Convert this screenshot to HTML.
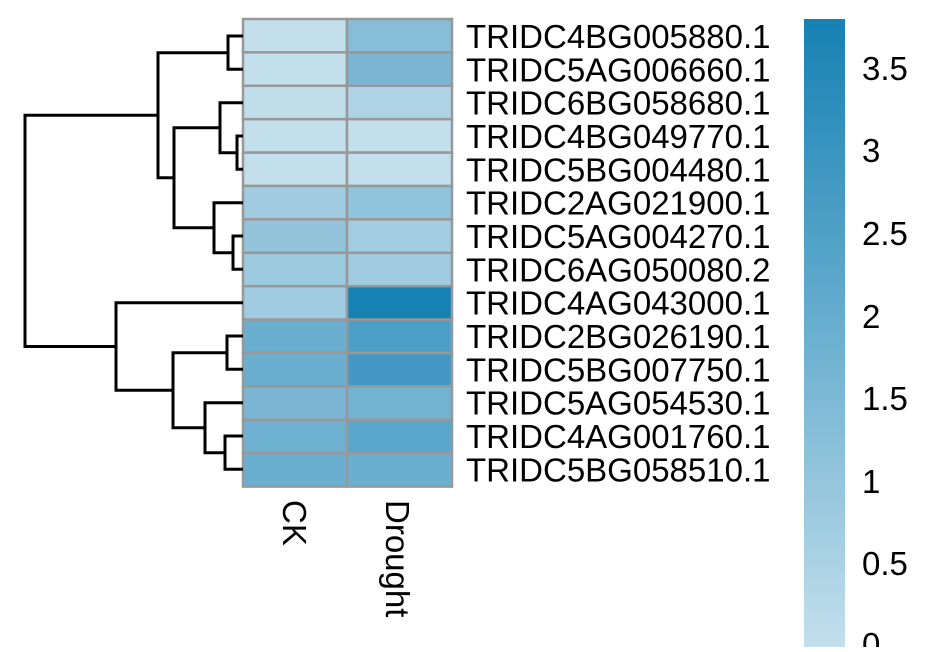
<!DOCTYPE html>
<html><head><meta charset="utf-8"><style>
html,body{margin:0;padding:0;background:#fff;}
svg text{font-family:"Liberation Sans",sans-serif;font-size:33px;fill:#000;}
</style></head><body>
<svg width="930" height="647" viewBox="0 0 930 647" xmlns="http://www.w3.org/2000/svg">
<defs><linearGradient id="g" x1="0" y1="1" x2="0" y2="0">
<stop offset="0" stop-color="#c2dfeb"/><stop offset="0.5" stop-color="#6aafd0"/><stop offset="1" stop-color="#1681b3"/></linearGradient></defs>
<g stroke="#989898" stroke-width="2.5">
<rect x="243" y="19.0" width="104" height="33.4" fill="#c2dfeb"/><rect x="347" y="19.0" width="105" height="33.4" fill="#88bdd8"/>
<rect x="243" y="52.4" width="104" height="33.4" fill="#c2dfeb"/><rect x="347" y="52.4" width="105" height="33.4" fill="#7ab6d4"/>
<rect x="243" y="85.8" width="104" height="33.4" fill="#c0deea"/><rect x="347" y="85.8" width="105" height="33.4" fill="#aed3e4"/>
<rect x="243" y="119.2" width="104" height="33.4" fill="#c2dfeb"/><rect x="347" y="119.2" width="105" height="33.4" fill="#c2dfeb"/>
<rect x="243" y="152.6" width="104" height="33.4" fill="#c2dfeb"/><rect x="347" y="152.6" width="105" height="33.4" fill="#c2dfeb"/>
<rect x="243" y="186.0" width="104" height="33.4" fill="#a0cbe0"/><rect x="347" y="186.0" width="105" height="33.4" fill="#90c3dc"/>
<rect x="243" y="219.4" width="104" height="33.4" fill="#93c4dc"/><rect x="347" y="219.4" width="105" height="33.4" fill="#a4cde1"/>
<rect x="243" y="252.8" width="104" height="33.4" fill="#9ccade"/><rect x="347" y="252.8" width="105" height="33.4" fill="#a0cbe0"/>
<rect x="243" y="286.2" width="104" height="33.4" fill="#a0cbe0"/><rect x="347" y="286.2" width="105" height="33.4" fill="#1681b3"/>
<rect x="243" y="319.6" width="104" height="33.4" fill="#6aafd0"/><rect x="347" y="319.6" width="105" height="33.4" fill="#4c9fc7"/>
<rect x="243" y="353.0" width="104" height="33.4" fill="#6aafd0"/><rect x="347" y="353.0" width="105" height="33.4" fill="#4399c4"/>
<rect x="243" y="386.4" width="104" height="33.4" fill="#7ab6d4"/><rect x="347" y="386.4" width="105" height="33.4" fill="#72b3d2"/>
<rect x="243" y="419.8" width="104" height="33.4" fill="#6eb1d1"/><rect x="347" y="419.8" width="105" height="33.4" fill="#59a7cc"/>
<rect x="243" y="453.2" width="104" height="33.4" fill="#6aafd0"/><rect x="347" y="453.2" width="105" height="33.4" fill="#6aafd0"/>
</g>
<g stroke="#000" stroke-width="3" fill="none">
<path d="M243 36H228V69.3H243"/>
<path d="M243 136H237V169.3H243"/>
<path d="M243 102.7H220V152.7H237"/>
<path d="M243 236H233V269.3H243"/>
<path d="M243 202.7H214V252.7H233"/>
<path d="M220 127.7H174V227.7H214"/>
<path d="M228 52.7H158V177.7H174"/>
<path d="M243 336H227V369.3H243"/>
<path d="M243 436H225V469.3H243"/>
<path d="M243 402.7H205V452.7H225"/>
<path d="M227 352.7H173V427.7H205"/>
<path d="M243 302.7H116V390.2H173"/>
<path d="M158 115.2H25V346.5H116"/>
</g>
<g>
<text x="466" y="48">TRIDC4BG005880.1</text>
<text x="466" y="81.3">TRIDC5AG006660.1</text>
<text x="466" y="114.7">TRIDC6BG058680.1</text>
<text x="466" y="148">TRIDC4BG049770.1</text>
<text x="466" y="181.3">TRIDC5BG004480.1</text>
<text x="466" y="214.7">TRIDC2AG021900.1</text>
<text x="466" y="248">TRIDC5AG004270.1</text>
<text x="466" y="281.3">TRIDC6AG050080.2</text>
<text x="466" y="314.7">TRIDC4AG043000.1</text>
<text x="466" y="348">TRIDC2BG026190.1</text>
<text x="466" y="381.3">TRIDC5BG007750.1</text>
<text x="466" y="414.7">TRIDC5AG054530.1</text>
<text x="466" y="448">TRIDC4AG001760.1</text>
<text x="466" y="481.3">TRIDC5BG058510.1</text>
</g>
<text transform="translate(283,500) rotate(90)">CK</text>
<text transform="translate(386,500) rotate(90)">Drought</text>
<rect x="804" y="19" width="41" height="628" fill="url(#g)"/>
<g>
<text x="862" y="80">3.5</text>
<text x="862" y="162">3</text>
<text x="862" y="245">2.5</text>
<text x="862" y="328">2</text>
<text x="862" y="410">1.5</text>
<text x="862" y="493">1</text>
<text x="862" y="575">0.5</text>
<text x="862" y="656">0</text>
</g>
</svg>
</body></html>
